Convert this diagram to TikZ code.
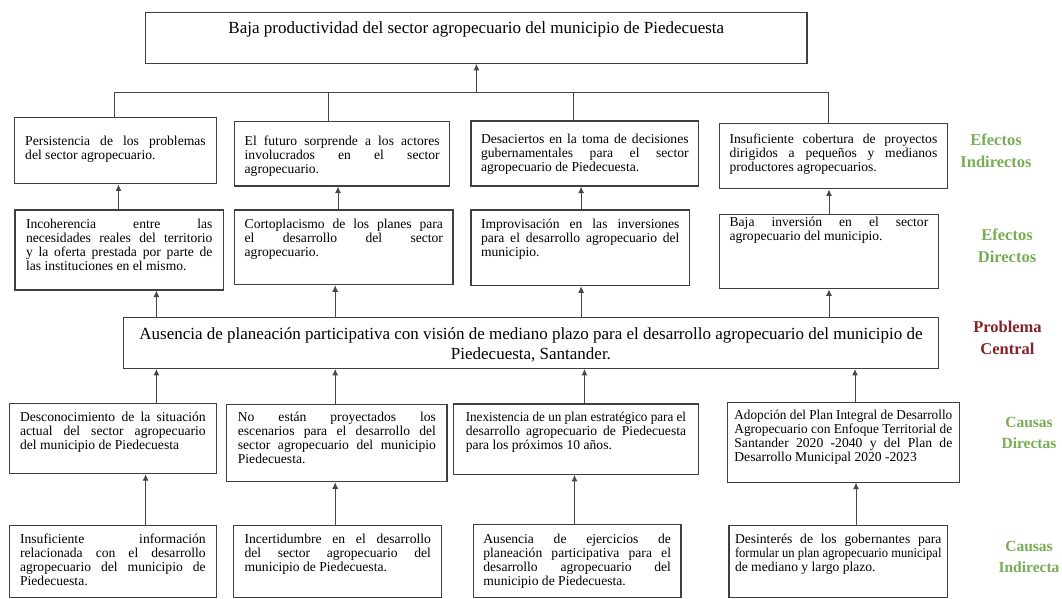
\documentclass[tikz,border=0pt]{standalone}
\usepackage{fontspec}
\usepackage{graphicx}
\setmainfont{Liberation Serif}
\usetikzlibrary{arrows.meta}

\definecolor{efgreen}{HTML}{79AD55}
\definecolor{pcred}{HTML}{85232A}
\definecolor{edge}{HTML}{404040}

\frenchspacing
% fonts
\newcommand\boxfont{\fontsize{13.6}{14.1}\selectfont}
\newcommand\bigfont{\fontsize{17}{20.3}\selectfont}
% one justified line (squeezed when it is too long) / one ragged last line
\newcommand\jl[1]{\setbox0\hbox{#1}%
  \ifdim\wd0>\linewidth
    \hbox{\strut\resizebox{\linewidth}{\height}{#1}}%
  \else
    \hbox to\linewidth{\strut\spaceskip=.25em plus 1fil minus .1em\relax\xspaceskip=\spaceskip\relax #1}%
  \fi}
\newcommand\lastln[1]{\hbox{\strut#1}}
% box: name, x1, y1, x2, y2, side padding, first baseline (y), lines
\newcommand\causebox[8]{%
  \node[tbox, minimum width={#4pt-#2pt}, minimum height={#5pt-#3pt}] (#1) at ({(#2+#4)/2},{(#3+#5)/2})
  {\parbox[c][\dimexpr#5pt-#3pt\relax][t]{\dimexpr#4pt-#2pt-#6pt-#6pt\relax}{\boxfont\vspace*{\dimexpr#7pt-#3pt-\ht\strutbox\relax}#8}};}
% vertical arrow from the top of #1 to the bottom of #2 at x = #3
\newcommand\linkup[3]{\coordinate (lx) at (#3,0); \draw[arr] (#1.north -| lx) -- (#2.south -| lx);}

\tikzset{
  tbox/.style={draw=edge, line width=1.1pt, fill=white, inner sep=0pt, anchor=center},
  link/.style={draw=black!72, line width=1pt},
  arr/.style={link, -{Latex[length=6.5pt,width=6pt]}},
  lab/.style={align=center, inner sep=0pt, font=\fontsize{16.5}{22}\selectfont\bfseries},
  labs/.style={align=center, inner sep=0pt, font=\fontsize{15.5}{21}\selectfont\bfseries},
}

\begin{document}
\begin{tikzpicture}[x=1pt,y=-1pt]
\useasboundingbox (0,0) rectangle (1062,599);
\fill[white] (0,0) rectangle (1062,599);

% top effect
\node[tbox, minimum width={807pt-145.6pt}, minimum height={63.3pt-12.5pt}] (title) at ({(145.6+807)/2},{(12.5+63.3)/2})
  {\parbox[c][50.8pt][t]{640pt}{\bigfont\centering\vspace*{\dimexpr21.5pt-\ht\strutbox\relax}\strut Baja productividad del sector agropecuario del municipio de Piedecuesta}};

% indirect effects
\causebox{b11}{14.2}{117.5}{216.7}{183.9}{11}{145.5}{%
  \jl{Persistencia de los problemas}\lastln{del sector agropecuario.}}
\causebox{b12}{234.7}{121.9}{449.7}{186}{10}{145.5}{%
  \jl{El futuro sorprende a los actores}\jl{involucrados en el sector}\lastln{agropecuario.}}
\causebox{b13}{471}{121}{698.6}{186}{10}{143}{%
  \jl{Desaciertos en la toma de decisiones}\jl{gubernamentales para el sector}\lastln{agropecuario de Piedecuesta.}}
\causebox{b14}{719.6}{123.6}{947.3}{188.9}{10}{143}{%
  \jl{Insuficiente cobertura de proyectos}\jl{dirigidos a pequeños y medianos}\lastln{productores agropecuarios.}}

% direct effects
\causebox{b21}{15}{210}{223.5}{290}{11}{228.5}{%
  \jl{Incoherencia entre las}\jl{necesidades reales del territorio}\jl{y la oferta prestada por parte de}\lastln{las instituciones en el mismo.}}
\causebox{b22}{234.7}{210}{453}{284.7}{10}{228}{%
  \jl{Cortoplacismo de los planes para}\jl{el desarrollo del sector}\lastln{agropecuario.}}
\causebox{b23}{471}{210}{689.5}{285.7}{10}{228}{%
  \jl{Improvisación en las inversiones}\jl{para el desarrollo agropecuario del}\lastln{municipio.}}
\causebox{b24}{719.6}{214.3}{938.3}{288.8}{10}{226}{%
  \jl{Baja inversión en el sector}\lastln{agropecuario del municipio.}}

% central problem
\node[tbox, minimum width={938.3pt-123.6pt}, minimum height={368.4pt-317.6pt}] (central) at ({(123.6+938.3)/2},{(317.6+368.4)/2})
  {\parbox[c][50.8pt][t]{803pt}{\bigfont\centering\vspace*{\dimexpr21.9pt-\ht\strutbox\relax}\strut Ausencia de planeación participativa con visión de mediano plazo para el desarrollo agropecuario del municipio de\\Piedecuesta, Santander.}};

% direct causes
\causebox{b31}{9.1}{403.5}{216.7}{473.6}{11}{421}{%
  \jl{Desconocimiento de la situación}\jl{actual del sector agropecuario}\lastln{del municipio de Piedecuesta}}
\causebox{b32}{226.9}{404.6}{447}{481.7}{11}{421}{%
  \jl{No están proyectados los}\jl{escenarios para el desarrollo del}\jl{sector agropecuario del municipio}\lastln{Piedecuesta.}}
\causebox{b33}{453.3}{404}{698.6}{474.3}{12.5}{421}{%
  \jl{Inexistencia de un plan estratégico para el}\jl{desarrollo agropecuario de Piedecuesta}\lastln{para los próximos 10 años.}}
\causebox{b34}{727.4}{402.9}{959.3}{482.1}{7}{419.5}{%
  \jl{Adopción del Plan Integral de Desarrollo}\jl{Agropecuario con Enfoque Territorial de}\jl{Santander 2020 -2040 y del Plan de}\lastln{Desarrollo Municipal 2020 -2023}}

% indirect causes
\causebox{b41}{9.1}{525.4}{216.7}{597.5}{11}{543}{%
  \jl{Insuficiente información}\jl{relacionada con el desarrollo}\jl{agropecuario del municipio de}\lastln{Piedecuesta.}}
\causebox{b42}{233.6}{525.4}{441.9}{597.5}{11}{543}{%
  \jl{Incertidumbre en el desarrollo}\jl{del sector agropecuario del}\lastln{municipio de Piedecuesta.}}
\causebox{b43}{473.4}{524.4}{681}{597.5}{10}{543}{%
  \jl{Ausencia de ejercicios de}\jl{planeación participativa para el}\jl{desarrollo agropecuario del}\lastln{municipio de Piedecuesta.}}
\causebox{b44}{729}{525.4}{947.5}{597.5}{6}{543}{%
  \jl{Desinterés de los gobernantes para}\jl{formular un plan agropecuario municipal}\lastln{de mediano y largo plazo.}}

% bus joining the indirect effects to the top effect
\coordinate (bus) at (476.4,93);
\coordinate (d1) at (114.4,93);
\coordinate (d2) at (328.4,93);
\coordinate (d3) at (573.3,93);
\coordinate (d4) at (828,93);
\draw[link] (b11.north -| d1) |- (d4) -- (b14.north -| d4);
\draw[link] (d2) -- (b12.north -| d2);
\draw[link] (d3) -- (b13.north -| d3);
\draw[arr] (bus) -- (title.south -| bus);

% direct effects -> indirect effects
\linkup{b21}{b11}{118.5}
\linkup{b22}{b12}{338}
\linkup{b23}{b13}{581.1}
\linkup{b24}{b14}{829}
% central problem -> direct effects
\linkup{central}{b21}{156.4}
\linkup{central}{b22}{335.2}
\linkup{central}{b23}{581.1}
\linkup{central}{b24}{829}
% direct causes -> central problem
\linkup{b31}{central}{156.4}
\linkup{b32}{central}{335.2}
\linkup{b33}{central}{584.5}
\linkup{b34}{central}{855}
% indirect causes -> direct causes
\linkup{b41}{b31}{145.6}
\linkup{b42}{b32}{335.2}
\linkup{b43}{b33}{574.5}
\linkup{b44}{b34}{856}

% row labels
\node[lab, text=efgreen] (l1) at (996,150.4) {Efectos\\Indirectos};
\node[lab, text=efgreen] (l2) at (1007,245.8) {Efectos\\Directos};
\node[lab, text=pcred] (l3) at (1007.5,338) {Problema\\Central};
\node[labs, text=efgreen] (l4) at (1029,432.8) {Causas\\Directas};
\node[labs, text=efgreen] (l5) at (1029,556.5) {Causas\\Indirecta};
\end{tikzpicture}
\end{document}
